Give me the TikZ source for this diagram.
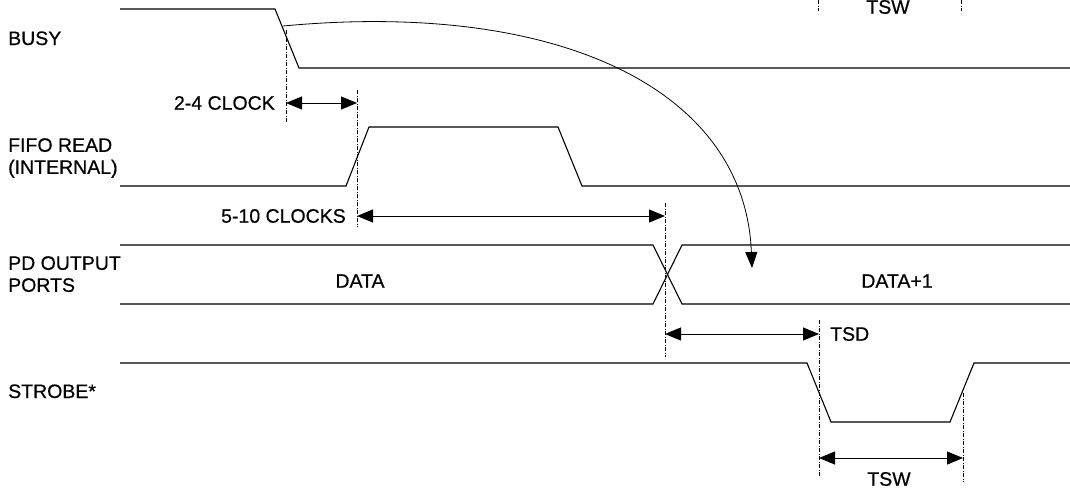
\documentclass[tikz,border=0pt]{standalone}
\usepackage{fontspec}
\setmainfont{Liberation Sans}[FakeBold=0.5]
\usetikzlibrary{arrows.meta}
\begin{document}
\begin{tikzpicture}[x=1pt,y=-1pt,
  wave/.style={line width=1.1pt, line join=miter},
  guide/.style={line width=0.7pt, dash pattern=on 4pt off 1.5pt on 1pt off 1.5pt},
  dimline/.style={line width=1pt, {Triangle[length=16pt,width=13pt]}-{Triangle[length=16pt,width=13pt]}},
  lbl/.style={font=\fontsize{19.5}{22}\selectfont, inner sep=0pt, align=left},
  txt/.style={font=\fontsize{19.5}{22}\selectfont, inner sep=0pt}]
\useasboundingbox (0,0) rectangle (1070,491);

% signal labels
\node[lbl, anchor=base west] (busy) at (8,45) {BUSY};
\node[lbl, anchor=north west] (fifo) at (8,138) {FIFO READ\\(INTERNAL)};
\node[lbl, anchor=north west] (pd) at (8,256) {PD OUTPUT\\PORTS};
\node[lbl, anchor=base west] (strobe) at (8,398) {STROBE*};

% BUSY waveform
\draw[wave] (120,9) -- (275,9) -- (299,68) -- (1070,68);
% FIFO READ waveform
\draw[wave] (120,186) -- (346,186) -- (369,127) -- (558,127) -- (582,186) -- (1070,186);
% PD OUTPUT bus
\draw[wave] (120,245) -- (653,245) -- (682,304) -- (1070,304);
\draw[wave] (120,304) -- (653,304) -- (682,245) -- (1070,245);
% STROBE* waveform
\draw[wave] (120,363) -- (807,363) -- (831,422) -- (950,422) -- (974,363) -- (1070,363);

% bus values
\node[txt] (data) at (360,281) {DATA};
\node[txt] (data1) at (897,281) {DATA+1};

% guide lines
\coordinate (g1t) at (286,30);  \coordinate (g1b) at (286,122);
\coordinate (g2t) at (357,90);  \coordinate (g2b) at (357,227);
\coordinate (g3t) at (665,203); \coordinate (g3b) at (665,357);
\coordinate (g4t) at (819,320); \coordinate (g4b) at (819,477);
\coordinate (g5t) at (963,393); \coordinate (g5b) at (963,482);
\draw[guide] (g1t) -- (g1b);
\draw[guide] (g2t) -- (g2b);
\draw[guide] (g3t) -- (g3b);
\draw[guide] (g4t) -- (g4b);
\draw[guide] (g5t) -- (g5b);

% top fragment guides
\coordinate (h1t) at (818,0); \coordinate (h1b) at (818,11);
\coordinate (h2t) at (961,0); \coordinate (h2b) at (961,11);
\draw[guide] (h1t) -- (h1b);
\draw[guide] (h2t) -- (h2b);
\node[txt] (tswtop) at (888,7) {TSW};

% dimension arrows
\coordinate (a1l) at (286,103); \coordinate (a1r) at (357,103);
\draw[dimline] (a1l) -- (a1r);
\node[txt, anchor=east] (clk24) at (275,103) {2-4 CLOCK};

\coordinate (a2l) at (357,216); \coordinate (a2r) at (665,216);
\draw[dimline] (a2l) -- (a2r);
\node[txt, anchor=east] (clk510) at (346,216) {5-10 CLOCKS};

\coordinate (a3l) at (665,334); \coordinate (a3r) at (819,334);
\draw[dimline] (a3l) -- (a3r);
\node[txt, anchor=west] (tsd) at (830,334) {TSD};

\coordinate (a4l) at (819,458); \coordinate (a4r) at (963,458);
\draw[dimline] (a4l) -- (a4r);
\node[txt] (tsw) at (889,479) {TSW};

% causal curved arrow
\coordinate (cs) at (283,26);
\coordinate (ce) at (752,268);
\draw[line width=0.8pt, -{Triangle[length=16pt,width=12pt]}] (cs) .. controls (560,0) and (745,90) .. (ce);
\end{tikzpicture}
\end{document}
